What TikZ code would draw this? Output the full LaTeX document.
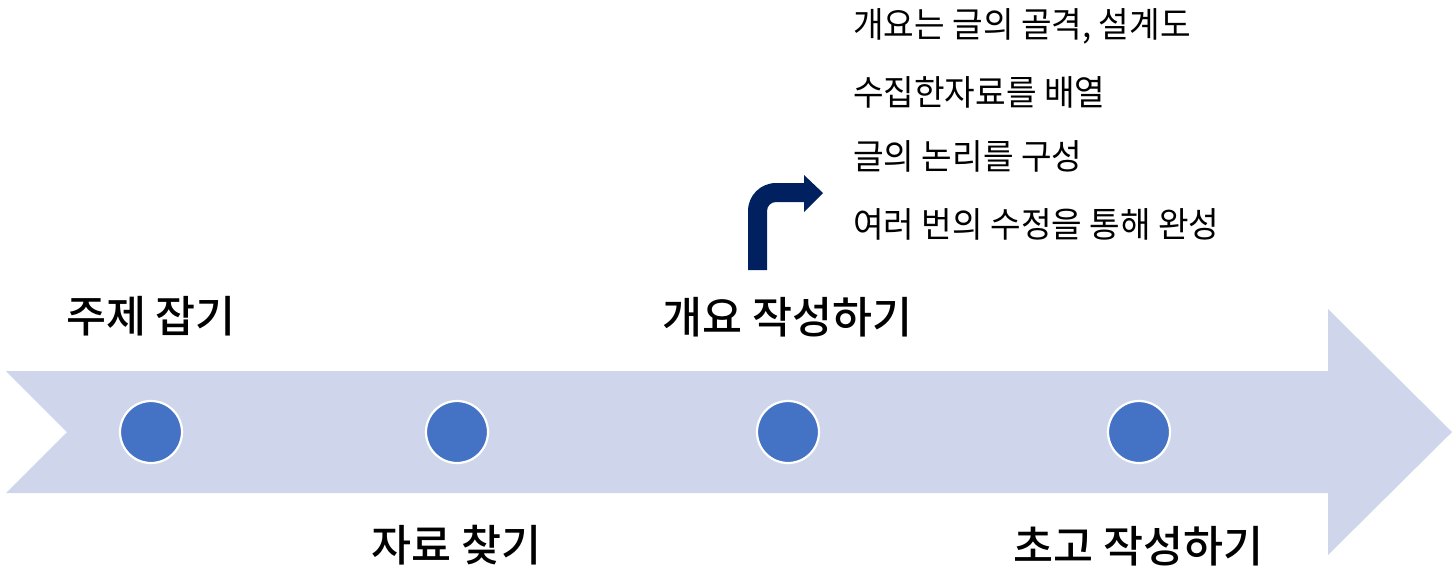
\documentclass[tikz,border=0pt]{standalone}
\usepackage{fontspec}
\usepackage{graphicx}
\setmainfont{Noto Sans CJK KR}
\newfontfamily\labelfont{Noto Sans CJK KR Medium}
\definecolor{bandcol}{HTML}{CFD5EA}
\definecolor{dotcol}{HTML}{4472C4}
\definecolor{navy}{HTML}{002060}
\tikzset{
  band/.style={fill=bandcol, draw=none},
  dot/.style={circle, fill=dotcol, draw=white, line width=2.2pt, minimum size=62pt, inner sep=0pt},
  steplabel/.style={inner sep=0pt, font=\labelfont\fontsize{43.5}{50}\selectfont},
  listitem/.style={inner sep=0pt, anchor=west, font=\fontsize{35}{42}\selectfont},
  bentarrow/.style={fill=navy, draw=none}
}
\newcommand{\narrowtext}[1]{\scalebox{0.95}[1]{#1}}
\begin{document}
\begin{tikzpicture}[x=1pt,y=-1pt]
\useasboundingbox (0,0) rectangle (1455,566);
% big timeline arrow
\fill[band] (6,371) -- (1328,371) -- (1328,309) -- (1452,432) -- (1328,555) -- (1328,493) -- (6,493) -- (67,432) -- cycle;
% milestone dots
\node[dot] (c1) at (151,432) {};
\node[dot] (c2) at (457,432) {};
\node[dot] (c3) at (788,432) {};
\node[dot] (c4) at (1139,432) {};
% labels
\node[steplabel] (l1) at (151,316) {주제 잡기};
\node[steplabel] (l2) at (456.5,545) {자료 찾기};
\node[steplabel] (l3) at (787.5,317) {개요 작성하기};
\node[steplabel] (l4) at (1138.5,546) {초고 작성하기};
% bent-up arrow
\fill[bentarrow] (748,270) -- (748,211) .. controls (748,195.5) and (760.5,183) .. (776,183)
  -- (804,183) -- (804,175) -- (823,193) -- (804,212) -- (804,202) -- (776,202)
  .. controls (771,202) and (767,206) .. (767,211) -- (767,270) -- cycle;
% description list
\node[listitem] (t1) at (853,26) {\narrowtext{개요는 글의 골격, 설계도}};
\node[listitem] (t2) at (853,92) {\narrowtext{수집한자료를 배열}};
\node[listitem] (t3) at (853,156) {\narrowtext{글의 논리를 구성}};
\node[listitem] (t4) at (853,224) {\narrowtext{여러 번의 수정을 통해 완성}};
\end{tikzpicture}
\end{document}
